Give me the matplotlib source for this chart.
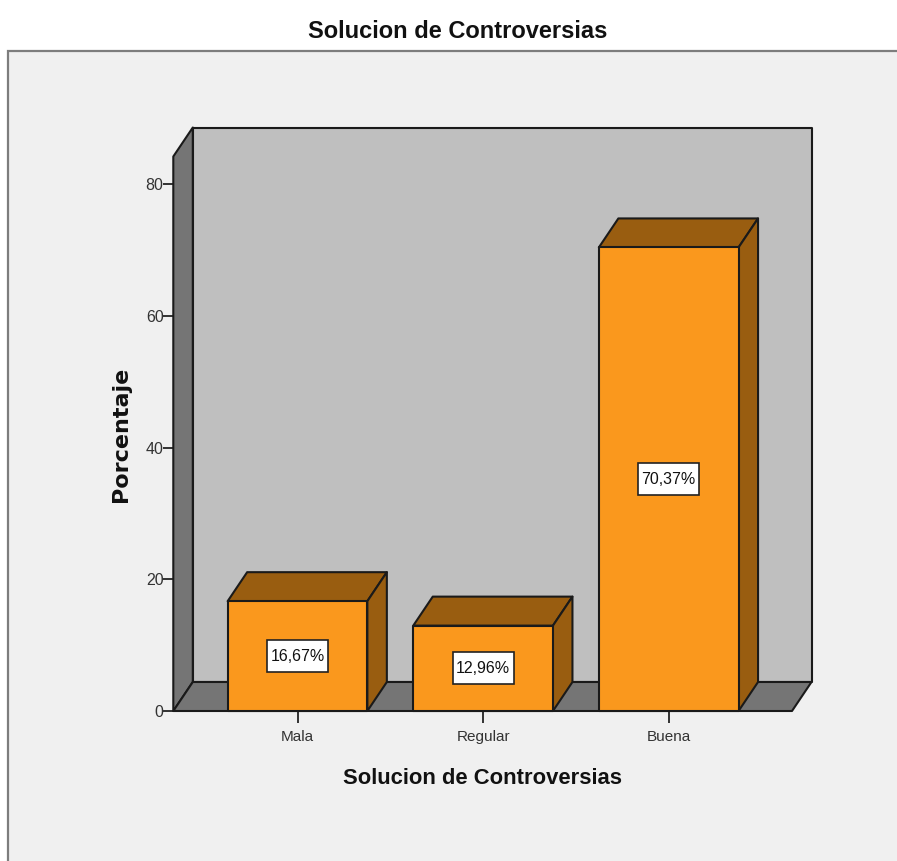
import matplotlib
matplotlib.use("Agg")
import matplotlib.pyplot as plt
from matplotlib.patches import Polygon, Rectangle

categories = ["Mala", "Regular", "Buena"]
values = [16.67, 12.96, 70.37]
labels = ["16,67%", "12,96%", "70,37%"]
yticks = [0, 20, 40, 60, 80]
title = "Solucion de Controversias"
xlabel = "Solucion de Controversias"
ylabel = "Porcentaje"

W, H = 897, 861
plt.rcParams["font.family"] = ["Liberation Sans", "DejaVu Sans"]
fig = plt.figure(figsize=(W / 100, H / 100), dpi=100, facecolor="white")

# outer panel
fig.add_artist(Rectangle((8 / W, -0.01), 1, 1 - 51 / H + 0.01, transform=fig.transFigure,
                         facecolor="#f0f0f0", edgecolor="#7d7d7d", linewidth=1.6, zorder=-5))

# inner axes: front plane of the 3D frame
L, R, B, T = 173.3, 792, 711, 156.5
PXX, PXY = 185.6, 6.5875
ax = fig.add_axes([L / W, 1 - B / H, (R - L) / W, (B - T) / H])
ax.set_facecolor("none")
ax.set_xlim((L - 297.5) / PXX, (R - 297.5) / PXX)
ax.set_ylim(0, (B - T) / PXY)
for s in ax.spines.values():
    s.set_visible(False)

dx = 19.5 / PXX
dy = 29 / PXY
xmin, xmax = ax.get_xlim()
ymin, ymax = ax.get_ylim()
edge = dict(edgecolor="#1a1a1a", linewidth=1.5, joinstyle="round", clip_on=False)

def poly(points, color, z):
    ax.add_patch(Polygon(points, closed=True, facecolor=color, zorder=z, **edge))

# frame walls
poly([(xmin + dx, ymin + dy), (xmax + dx, ymin + dy), (xmax + dx, ymax + dy), (xmin + dx, ymax + dy)], "#bfbfbf", 1)
poly([(xmin, ymin), (xmin + dx, ymin + dy), (xmin + dx, ymax + dy), (xmin, ymax)], "#757575", 2)
poly([(xmin, ymin), (xmax, ymin), (xmax + dx, ymin + dy), (xmin + dx, ymin + dy)], "#757575", 2)

# bars
w = 139.7 / PXX
box_w, box_h = 61 / PXX, 32 / PXY
for i, v in enumerate(values):
    x0, x1 = i - w / 2, i + w / 2
    poly([(x0, v), (x1, v), (x1 + dx, v + dy), (x0 + dx, v + dy)], "#995d10", 3)
    poly([(x1, 0), (x1 + dx, dy), (x1 + dx, v + dy), (x1, v)], "#995d10", 3)
    poly([(x0, 0), (x1, 0), (x1, v), (x0, v)], "#fa981d", 4)
    ax.add_patch(Rectangle((i - box_w / 2, v / 2 - box_h / 2), box_w, box_h, facecolor="white",
                           edgecolor="#222222", linewidth=1.2, zorder=5))
    ax.text(i, v / 2, labels[i], ha="center", va="center", fontsize=11.5, color="#111111", zorder=6)

ax.set_xticks(range(len(categories)), categories)
ax.set_yticks(yticks)
ax.tick_params(axis="x", length=8.5, width=1.3, color="#222222", labelsize=11, labelcolor="#333333", pad=5.5)
ax.tick_params(axis="y", length=7, width=1.3, color="#222222", labelsize=11.5, labelcolor="#333333", pad=0)

fig.text(458 / W, 1 - 31 / H, title, ha="center", va="center", fontsize=17, fontweight="bold", color="#111111")
fig.text(482 / W, 1 - 778.5 / H, xlabel, ha="center", va="center", fontsize=15.8, fontweight="bold", color="#111111")
fig.text(121 / W, 1 - 434.5 / H, ylabel, ha="center", va="center", rotation=90, fontsize=16, fontweight="bold",
         family="DejaVu Sans", color="#111111")

fig.savefig("out.png", dpi=100, facecolor="white")
